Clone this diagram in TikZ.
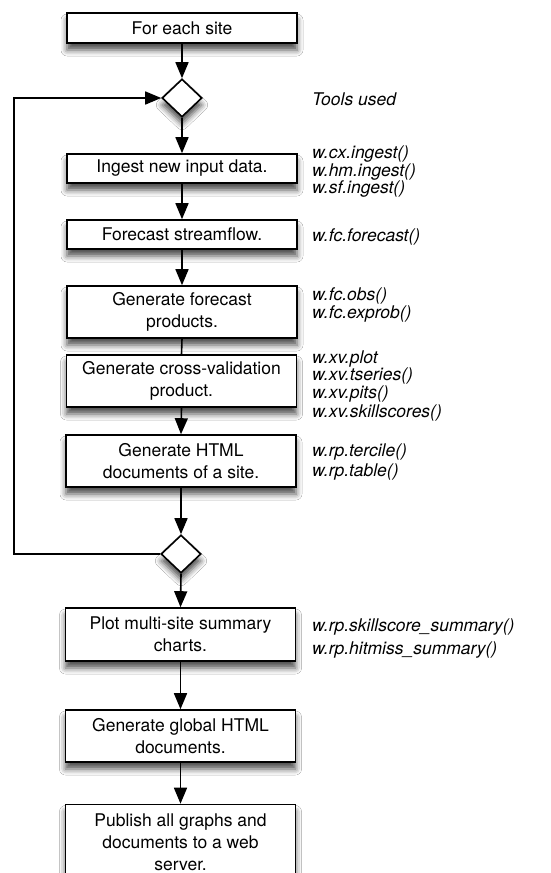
\documentclass[tikz,border=0pt]{standalone}
\usepackage{fontspec}
\setmainfont{TeX Gyre Heros}
\usetikzlibrary{shapes.geometric,arrows.meta,shadows.blur}
\tikzset{
  flowbox/.style={draw=black,line width=1.6pt,fill=white,minimum width=230pt,inner sep=0pt,align=center,
    font=\fontsize{17.5}{22}\selectfont,
    blur shadow={shadow xshift=0pt,shadow yshift=-7pt,shadow blur radius=6pt,shadow opacity=70}},
  decide/.style={draw=black,line width=1.6pt,fill=white,diamond,minimum width=40pt,minimum height=38pt,inner sep=0pt,
    blur shadow={shadow xshift=0pt,shadow yshift=-7pt,shadow blur radius=6pt,shadow opacity=70}},
  flowarrow/.style={line width=1.6pt,-{Triangle[length=16pt,width=13pt]}},
  flowline/.style={line width=1.6pt},
  tool/.style={anchor=base west,inner sep=0pt,font=\fontsize{17.5}{17.5}\selectfont\itshape}
}
\begin{document}
\begin{tikzpicture}[x=1pt,y=-1pt]
\clip (0,0) rectangle (551,873);
\useasboundingbox (0,0) rectangle (551,873);
\fill[white] (0,0) rectangle (551,873);

\node[flowbox,minimum height=30pt] (b1) at (182,28) {For each site};
\node[decide] (d1) at (182,98) {};
\node[flowbox,minimum height=29pt] (b2) at (182,168.5) {Ingest new input data.};
\node[flowbox,minimum height=29pt] (b3) at (182,234.5) {Forecast streamflow.};
\node[flowbox,minimum height=52pt] (b4) at (182,312) {Generate forecast\\products.};
\node[flowbox,minimum height=52pt] (b5) at (181.5,381) {Generate cross-validation\\product.};
\node[flowbox,minimum height=52pt] (b6) at (181,461) {Generate HTML\\documents of a site.};
\node[decide] (d2) at (181,554) {};
\node[flowbox,minimum height=53pt] (b7) at (180.5,634.5) {Plot multi-site summary\\charts.};
\node[flowbox,minimum height=52pt] (b8) at (180.5,736) {Generate global HTML\\documents.};
\node[flowbox,minimum height=75pt] (b9) at (180.5,842) {Publish all graphs and\\documents to a web\\server.};

\coordinate (loopcorner) at (14,554);
\draw[flowarrow] (b1.south) -- (d1.north);
\draw[flowarrow] (d1.south) -- (b2.north);
\draw[flowarrow] (b2.south) -- (b3.north);
\draw[flowarrow] (b3.south) -- (b4.north);
\draw[flowline] (b4.south) -- (b5.north);
\draw[flowarrow] (b5.south) -- (b6.north);
\draw[flowarrow] (b6.south) -- (d2.north);
\draw[flowarrow] (d2.south) -- (b7.north);
\draw[flowarrow] (b7.south) -- (b8.north);
\draw[flowarrow] (b8.south) -- (b9.north);
\draw[flowarrow] (d2.west) -- (loopcorner) |- (d1.west);

\node[tool] (t0) at (312,105) {Tools used};
\node[tool] (t1) at (312,158) {w.cx.ingest()};
\node[tool] (t2) at (312,176) {w.hm.ingest()};
\node[tool] (t3) at (312,193) {w.sf.ingest()};
\node[tool] (t4) at (312,241) {w.fc.forecast()};
\node[tool] (t5) at (312,300) {w.fc.obs()};
\node[tool] (t6) at (312,318) {w.fc.exprob()};
\node[tool] (t7) at (312,363) {w.xv.plot};
\node[tool] (t8) at (312,380) {w.xv.tseries()};
\node[tool] (t9) at (312,398) {w.xv.pits()};
\node[tool] (t10) at (312,417) {w.xv.skillscores()};
\node[tool] (t11) at (312,456) {w.rp.tercile()};
\node[tool] (t12) at (312,476) {w.rp.table()};
\node[tool] (t13) at (312,631) {w.rp.skillscore\_summary()};
\node[tool] (t14) at (312,654) {w.rp.hitmiss\_summary()};
\end{tikzpicture}
\end{document}
